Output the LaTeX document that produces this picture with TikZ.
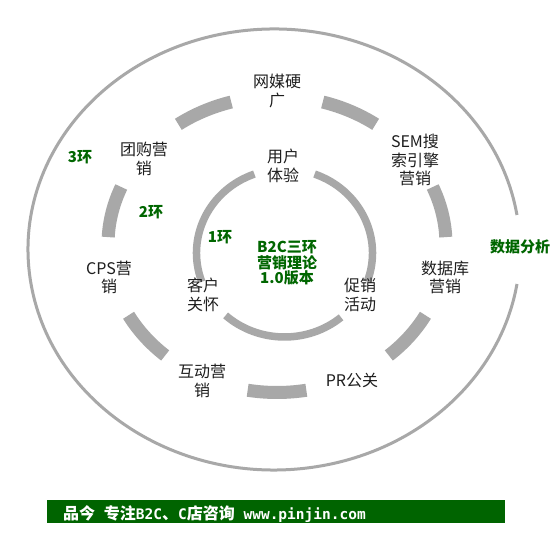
\documentclass[tikz,border=0pt]{standalone}
\usepackage{fontspec}
\newfontfamily\cjk{Noto Sans CJK SC}
\newfontfamily\mono{DejaVu Sans Mono}
\definecolor{ringgray}{RGB}{168,168,168}
\definecolor{txtgreen}{RGB}{0,102,0}
\definecolor{bargreen}{RGB}{0,100,0}
\definecolor{txtdark}{RGB}{30,30,30}
\begin{document}
\begin{tikzpicture}[x=1pt,y=1pt,
  outerring/.style={draw=ringgray, line width=3pt},
  midring/.style={draw=ringgray, line width=13pt},
  innerring/.style={draw=ringgray, line width=7.5pt},
  lbl/.style={align=center, text=txtdark, inner sep=0pt, font=\cjk\fontsize{16}{18.5}\selectfont},
  glbl/.style={align=center, text=txtgreen, inner sep=0pt, font=\cjk\bfseries\fontsize{15}{15.5}\selectfont}]
\useasboundingbox (0,0) rectangle (558,548);
\fill[white] (0,0) rectangle (558,548);
\coordinate (C0) at (274,298.5);
\coordinate (C2) at (277,303.5);
\coordinate (C1) at (284.5,295);
% outer ring
\draw[outerring] (C0) ++(9:246pt and 220.5pt) arc[start angle=9, end angle=351, x radius=246pt, y radius=220.5pt];
% middle ring: seven dashes
\foreach \c in {270,321.43,372.86,424.29,475.71,527.14,578.57}{
  \draw[midring] (C2) ++({\c-10}:169pt and 148pt) arc[start angle={\c-10}, end angle={\c+10}, x radius=169pt, y radius=148pt];
}
% inner ring: three arcs
\draw[innerring] (C1) ++(110:88pt and 84pt) arc[start angle=110, end angle=200, x radius=88pt, y radius=84pt];
\draw[innerring] (C1) ++(228:88pt and 84pt) arc[start angle=228, end angle=310, x radius=88pt, y radius=84pt];
\draw[innerring] (C1) ++(340:88pt and 84pt) arc[start angle=340, end angle=430, x radius=88pt, y radius=84pt];
% labels
\node[lbl] (wm) at (277,457) {网媒硬\\广};
\node[lbl] (yh) at (283,382) {用户\\体验};
\node[lbl] (sem) at (415,388) {SEM搜\\索引擎\\营销};
\node[lbl] (tg) at (144,389) {团购营\\销};
\node[lbl] (kh) at (203,253) {客户\\关怀};
\node[lbl] (cx) at (360,253) {促销\\活动};
\node[lbl] (cps) at (109,270.5) {CPS营\\销};
\node[lbl] (sjk) at (445,270.5) {数据库\\营销};
\node[lbl] (hd) at (202,167) {互动营\\销};
\node[lbl] (pr) at (352,168) {PR公关};
\node[glbl] (h3) at (80,391) {3环};
\node[glbl] (h2) at (151,336) {2环};
\node[glbl] (h1) at (220,311) {1环};
\node[glbl] (ctr) at (287,285) {B2C三环\\营销理论\\1.0版本};
\node[glbl] (sjfx) at (520,301) {数据分析};
% footer
\fill[bargreen] (47,25) rectangle (505,48);
\node[anchor=west, text=white, inner sep=0pt] (foot) at (63,33.5)
  {{\cjk\bfseries\fontsize{16}{16}\selectfont 品今}{\mono\bfseries\fontsize{14.5}{16}\selectfont\ }{\cjk\bfseries\fontsize{16}{16}\selectfont 专注}{\mono\bfseries\fontsize{14.5}{16}\selectfont B2C}{\cjk\bfseries\fontsize{16}{16}\selectfont 、}{\mono\bfseries\fontsize{14.5}{16}\selectfont C}{\cjk\bfseries\fontsize{16}{16}\selectfont 店咨询}{\mono\bfseries\fontsize{14.5}{16}\selectfont\ www.pinjin.com}};
\end{tikzpicture}
\end{document}
